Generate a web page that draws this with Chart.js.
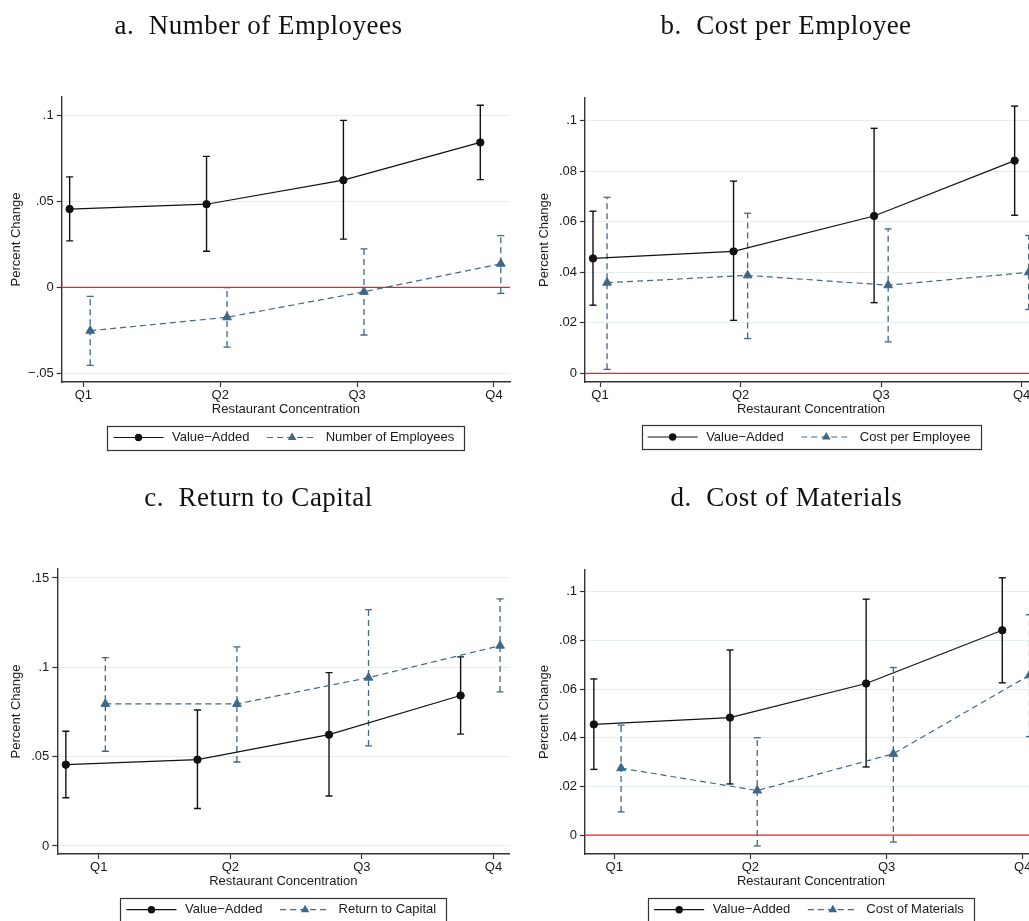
<!DOCTYPE html>
<html>
<head>
<meta charset="utf-8">
<script src="https://cdn.jsdelivr.net/npm/chart.js@4.4.1/dist/chart.umd.min.js"></script>
<style>
  html, body { margin: 0; padding: 0; background: #fff; overflow: hidden; width: 1029px; height: 921px; }
  canvas { position: absolute; }
</style>
</head>
<body>
<canvas id="panelA" width="524" height="470" style="left:0px;top:0px"></canvas>
<canvas id="panelB" width="540" height="470" style="left:524px;top:0px"></canvas>
<canvas id="panelC" width="524" height="470" style="left:0px;top:472px"></canvas>
<canvas id="panelD" width="540" height="470" style="left:524px;top:472px"></canvas>
<script>
// Quartiles of restaurant concentration
const quartiles = ['Q1', 'Q2', 'Q3', 'Q4'];

// Value-added: estimate and 95% interval (same in every panel)
const valueAdded     = [0.0455, 0.0483, 0.0623, 0.0842];
const valueAddedLow  = [0.0270, 0.0210, 0.0280, 0.0626];
const valueAddedHigh = [0.0642, 0.0761, 0.0970, 0.1058];

// a. Number of employees
const employees     = [-0.0252, -0.0174, -0.0026, 0.0137];
const employeesLow  = [-0.0453, -0.0347, -0.0277, -0.0035];
const employeesHigh = [-0.0052, -0.0002, 0.0223, 0.0300];

// b. Cost per employee
const costPerEmployee     = [0.0359, 0.0388, 0.0349, 0.0400];
const costPerEmployeeLow  = [0.0016, 0.0138, 0.0125, 0.0253];
const costPerEmployeeHigh = [0.0697, 0.0634, 0.0572, 0.0546];

// c. Return to capital
const returnToCapital     = [0.0795, 0.0795, 0.0942, 0.1121];
const returnToCapitalLow  = [0.0530, 0.0470, 0.0560, 0.0862];
const returnToCapitalHigh = [0.1054, 0.1114, 0.1323, 0.1383];

// d. Cost of materials
const costOfMaterials     = [0.0275, 0.0183, 0.0334, 0.0657];
const costOfMaterialsLow  = [0.0095, -0.0045, -0.0029, 0.0405];
const costOfMaterialsHigh = [0.0452, 0.0400, 0.0689, 0.0906];

// Y-axis ticks and their labels
const ticksA = [-0.05, 0, 0.05, 0.1];
const labelsA = ['\u2212.05', '0', '.05', '.1'];
const ticksB = [0, 0.02, 0.04, 0.06, 0.08, 0.1];
const labelsB = ['0', '.02', '.04', '.06', '.08', '.1'];
const ticksC = [0, 0.05, 0.1, 0.15];
const labelsC = ['0', '.05', '.1', '.15'];

const SANS = '"Liberation Sans", Arial, Helvetica, sans-serif';
const SERIF = '"Liberation Serif", "Times New Roman", serif';
const INK = '#111111';
const TEXT = '#1a1a1a';
const AXIS = '#333333';
const BLUE = '#3f6788';
const RED = '#ff1a1a';
const GRID = '#e5eded';
const DASH = [6, 4];

function points(vals, dodge) {
  return vals.map((v, i) => ({ x: i + 1 + dodge, y: v }));
}
function whiskers(lo, hi, dodge) {
  const out = [];
  lo.forEach((l, i) => {
    const x = i + 1 + dodge;
    out.push({ x: x, y: l }, { x: x, y: hi[i] }, { x: x, y: null });
  });
  return out;
}

// Title above each panel and boxed legend beneath the x-axis
const panelText = {
  id: 'panelText',
  afterDraw(chart, args, o) {
    const c = chart.ctx;
    c.save();
    c.fillStyle = INK;
    c.font = '27px ' + SERIF;
    c.letterSpacing = '0.5px';
    c.textAlign = 'center';
    c.textBaseline = 'alphabetic';
    c.fillText(o.title, o.titleX, o.titleY);
    c.letterSpacing = '0px';

    c.font = '13px ' + SANS;
    const items = o.legend;
    const w = items.map(it => c.measureText(it.label).width);
    const PAD_L = 6, SAMPLE = 50, GAP = 8.5, MID = 17.7, PAD_R = 10, H = 24;
    const total = PAD_L + SAMPLE + GAP + w[0] + MID + SAMPLE + GAP + w[1] + PAD_R;
    const area = chart.chartArea;
    let x = (area.left + area.right) / 2 - total / 2;
    const top = o.legendTop, cy = top + H / 2;
    c.strokeStyle = AXIS;
    c.lineWidth = 1.2;
    c.strokeRect(Math.round(x) + 0.5, Math.round(top) + 0.5, Math.round(total), H);
    x += PAD_L;
    items.forEach((it, k) => {
      c.strokeStyle = it.color;
      c.fillStyle = it.color;
      c.lineWidth = 1.2;
      c.setLineDash(it.dash);
      c.beginPath();
      c.moveTo(x, cy);
      c.lineTo(x + SAMPLE, cy);
      c.stroke();
      c.setLineDash([]);
      const mx = x + SAMPLE / 2;
      c.beginPath();
      if (it.marker === 'circle') {
        c.arc(mx, cy, 3.7, 0, Math.PI * 2);
      } else {
        const r = 5;
        c.moveTo(mx, cy - r);
        c.lineTo(mx + r * Math.cos(Math.PI / 6), cy + r / 2);
        c.lineTo(mx - r * Math.cos(Math.PI / 6), cy + r / 2);
        c.closePath();
      }
      c.fill();
      x += SAMPLE + GAP;
      c.fillStyle = TEXT;
      c.textAlign = 'left';
      c.textBaseline = 'middle';
      c.fillText(it.label, x, cy);
      x += w[k] + MID;
    });
    c.restore();
  }
};

function makePanel(id, s) {
  const canvas = document.getElementById(id);
  const X_AXIS_H = 35;
  const datasets = [
    { // value-added estimates
      data: points(valueAdded, s.vaDodge), borderColor: INK, borderWidth: 1.2,
      pointStyle: 'circle', pointRadius: 3.7, pointBackgroundColor: INK, pointBorderColor: INK,
      pointBorderWidth: 1, order: 1
    },
    { // comparison series estimates
      data: points(s.vals, s.dodge), borderColor: BLUE, borderWidth: 1.2, borderDash: DASH,
      pointStyle: 'triangle', pointRadius: 5, pointBackgroundColor: BLUE, pointBorderColor: BLUE,
      pointBorderWidth: 1, order: 2
    },
    { // value-added intervals
      data: whiskers(valueAddedLow, valueAddedHigh, s.vaDodge), borderColor: INK, borderWidth: 1.4,
      pointStyle: 'line', pointRadius: 3.5, pointBorderColor: INK, pointBorderWidth: 1.4,
      spanGaps: false, order: 3
    },
    { // comparison series intervals
      data: whiskers(s.low, s.high, s.dodge), borderColor: BLUE, borderWidth: 1.3, borderDash: DASH,
      pointStyle: 'line', pointRadius: 3.5, pointBorderColor: BLUE, pointBorderWidth: 1.3,
      spanGaps: false, order: 4
    }
  ];
  if (s.zeroLine) {
    datasets.push({
      data: [{ x: s.xMin, y: 0 }, { x: s.xMax, y: 0 }], borderColor: RED, borderWidth: 1.3,
      pointRadius: 0, order: 9
    });
  }
  return new Chart(canvas, {
    type: 'line',
    data: { datasets: datasets },
    plugins: [panelText],
    options: {
      responsive: false,
      animation: false,
      devicePixelRatio: 1,
      events: [],
      layout: {
        padding: {
          left: 0,
          top: s.plotTop,
          right: canvas.width - s.plotRight,
          bottom: canvas.height - s.plotBottom - X_AXIS_H
        }
      },
      elements: { line: { tension: 0, fill: false } },
      plugins: {
        legend: { display: false },
        tooltip: { enabled: false },
        title: { display: false },
        panelText: { title: s.title, titleX: s.titleX, titleY: 34, legendTop: s.legendTop, legend: s.legend }
      },
      scales: {
        x: {
          type: 'linear', min: s.xMin, max: s.xMax,
          afterBuildTicks: a => { a.ticks = quartiles.map((q, i) => ({ value: i + 1 })); },
          afterFit: a => { a.height = X_AXIS_H; },
          ticks: {
            autoSkip: false, maxRotation: 0, padding: 0.5, color: TEXT,
            font: { family: SANS, size: 13 },
            callback: (v, i) => quartiles[i]
          },
          grid: { drawOnChartArea: false, drawTicks: true, tickLength: 5, tickColor: AXIS, tickWidth: 1.2 },
          border: { display: true, color: AXIS, width: 1.4 },
          title: {
            display: true, text: 'Restaurant Concentration', color: TEXT,
            font: { family: SANS, size: 13 }, padding: { top: 0, bottom: 0 }
          }
        },
        y: {
          type: 'linear', min: s.yMin, max: s.yMax,
          afterBuildTicks: a => { a.ticks = s.yTicks.map(v => ({ value: v })); },
          afterFit: a => { a.width = s.plotLeft; },
          ticks: {
            padding: 3, color: TEXT, font: { family: SANS, size: 13 },
            callback: (v, i) => s.yLabels[i]
          },
          grid: { color: GRID, lineWidth: 1, drawTicks: true, tickLength: 5, tickColor: AXIS, tickWidth: 1.2 },
          border: { display: true, color: AXIS, width: 1.4 },
          title: {
            display: true, text: 'Percent Change', color: TEXT,
            font: { family: SANS, size: 13 }, padding: { top: s.yTitleX - 7.8, bottom: 0 }
          }
        }
      }
    }
  });
}

function legendFor(label) {
  return [
    { label: 'Value\u2212Added', color: INK, dash: [], marker: 'circle' },
    { label: label, color: BLUE, dash: DASH, marker: 'triangle' }
  ];
}

makePanel('panelA', {
  title: 'a.  Number of Employees', titleX: 258.5,
  vals: employees, low: employeesLow, high: employeesHigh,
  vaDodge: -0.1, dodge: 0.05, xMin: 0.842, xMax: 4.117,
  yMin: -0.055, yMax: 0.1106, yTicks: ticksA, yLabels: labelsA,
  plotLeft: 61.7, plotRight: 510, plotTop: 97, plotBottom: 382, yTitleX: 16,
  zeroLine: true, legendTop: 425.5, legend: legendFor('Number of Employees')
});

makePanel('panelB', {
  title: 'b.  Cost per Employee', titleX: 262,
  vals: costPerEmployee, low: costPerEmployeeLow, high: costPerEmployeeHigh,
  vaDodge: -0.05, dodge: 0.05, xMin: 0.893, xMax: 4.109,
  yMin: -0.0034, yMax: 0.109, yTicks: ticksB, yLabels: labelsB,
  plotLeft: 61, plotRight: 513, plotTop: 98, plotBottom: 382, yTitleX: 20,
  zeroLine: true, legendTop: 425, legend: legendFor('Cost per Employee')
});

makePanel('panelC', {
  title: 'c.  Return to Capital', titleX: 258.5,
  vals: returnToCapital, low: returnToCapitalLow, high: returnToCapitalHigh,
  vaDodge: -0.25, dodge: 0.05, xMin: 0.685, xMax: 4.12,
  yMin: -0.0045, yMax: 0.155, yTicks: ticksC, yLabels: labelsC,
  plotLeft: 57.3, plotRight: 509.3, plotTop: 97, plotBottom: 382, yTitleX: 16,
  zeroLine: false, legendTop: 425.7, legend: legendFor('Return to Capital')
});

makePanel('panelD', {
  title: 'd.  Cost of Materials', titleX: 262.3,
  vals: costOfMaterials, low: costOfMaterialsLow, high: costOfMaterialsHigh,
  vaDodge: -0.15, dodge: 0.05, xMin: 0.785, xMax: 4.105,
  yMin: -0.0078, yMax: 0.109, yTicks: ticksB, yLabels: labelsB,
  plotLeft: 61, plotRight: 513, plotTop: 98, plotBottom: 382, yTitleX: 20,
  zeroLine: true, legendTop: 425.7, legend: legendFor('Cost of Materials')
});
</script>
</body>
</html>
